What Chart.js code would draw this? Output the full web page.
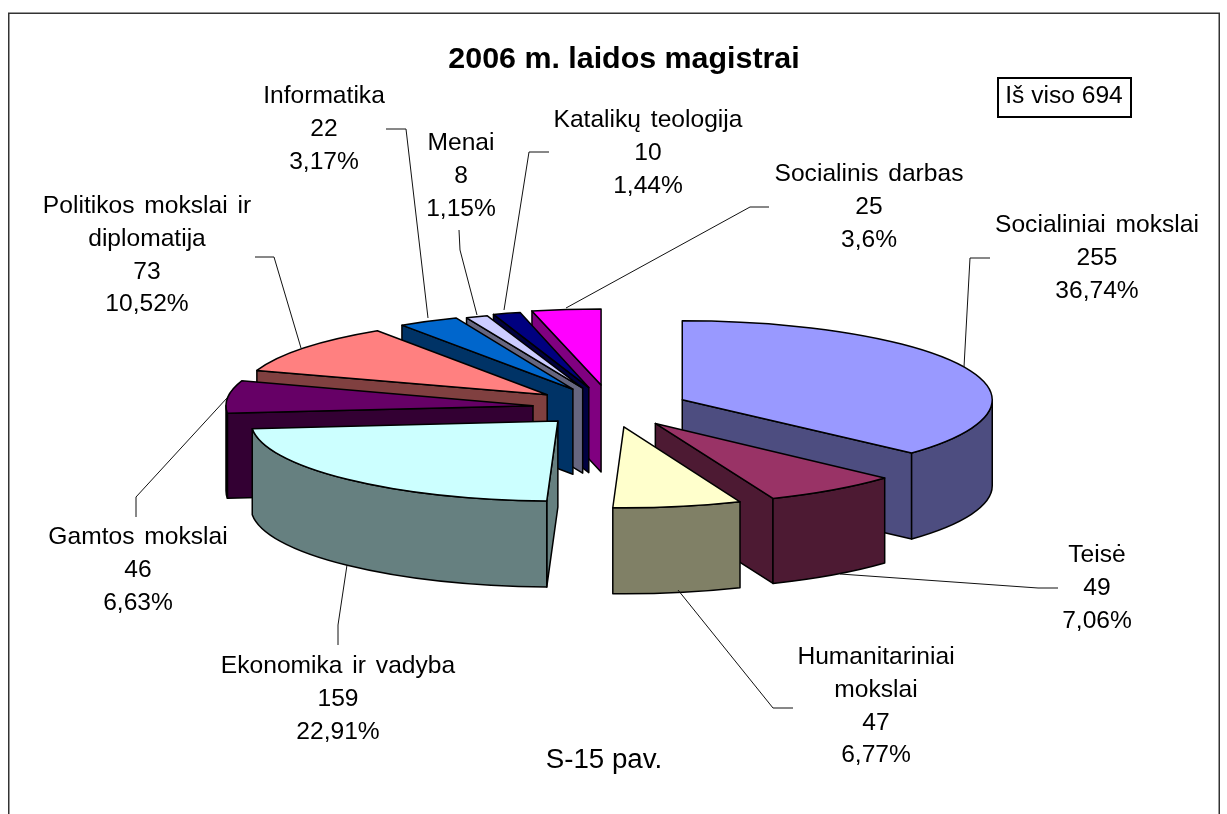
<!DOCTYPE html>
<html>
<head>
<meta charset="utf-8">
<style>html,body{margin:0;padding:0;background:#fff}canvas{display:block}</style>
<script src="https://cdn.jsdelivr.net/npm/chart.js@4"></script>
</head>
<body>
<canvas id="c" width="1227" height="814"></canvas>
<script>
const categories = ['Socialiniai mokslai','Teisė','Humanitariniai mokslai','Ekonomika ir vadyba','Gamtos mokslai','Politikos mokslai ir diplomatija','Informatika','Menai','Katalikų teologija','Socialinis darbas'];
const values = [255,49,47,159,46,73,22,8,10,25];
const percentLabels = ['36,74%','7,06%','6,77%','22,91%','6,63%','10,52%','3,17%','1,15%','1,44%','3,6%'];
const topColors = ['#9999FF','#993366','#FFFFCC','#CCFFFF','#660066','#FF8080','#0066CC','#CCCCFF','#000080','#FF00FF'];
const sideColors = ['#4D4D80','#4D1A33','#808066','#668080','#330033','#804040','#003366','#666680','#000040','#800080'];
const chartTitle = '2006 m. laidos magistrai';
const totalLabel = 'Iš viso 694';
const figureLabel = 'S-15 pav.';

const FONT = '"Liberation Sans", Arial, sans-serif';
const LABEL_PX = 24.6, LINE_H = 32.8;
const TILT = 0.255, RADIUS = 310, SHIFT_X = -14;
const EDGE = 1.5;
// per-slice 3D view fit (perspective of the original): explosion, vertical nudge, ellipse radii, wall height
const explodeBy = [79,79,79,76,77.5,79,79,79,79,79];
const nudgeY    = [1,0,0,0,1,0,0,0,0,-2];
const radiusX   = [310,310,306,307,307,306,308,306,306,308];
const radiusY   = [79,81,81,80,79,77,77,76,77,76];
const wallH     = [86,85,86,86,85,85,85,85,85,87];

const nameLines = {'Humanitariniai mokslai':['Humanitariniai','mokslai'],'Politikos mokslai ir diplomatija':['Politikos mokslai ir','diplomatija']};
// label placement [centre x, first baseline] and leader polyline, by category order
const labelPlace = [
  [1097,232,[[990,258],[970,258],[964,367]]],
  [1097,562,[[1058,588],[1038,588],[840,574]]],
  [876,664,[[793,708],[773,708],[678,590]]],
  [338,673,[[338,645],[338,625],[347,565]]],
  [138,544,[[136,517],[136,497],[227,398]]],
  [147,213,[[255,257],[274,257],[301,348]]],
  [324,103,[[386,129],[406,129],[428,318]]],
  [461,150,[[459,230],[460,250],[477,315]]],
  [648,127,[[549,152],[529,152],[504,310]]],
  [869,181,[[769,207],[750,207],[566,308]]]
];

function polygon(ctx, pts, fill){
  ctx.beginPath();
  pts.forEach((p,i)=> i?ctx.lineTo(p[0],p[1]):ctx.moveTo(p[0],p[1]));
  ctx.closePath();
  ctx.fillStyle = fill; ctx.fill(); ctx.stroke();
}

function drawSlice(ctx, arc, i){
  const a0 = arc.startAngle, a1 = arc.endAngle, mid = (a0+a1)/2, r = arc.outerRadius;
  const rx = radiusX[i], ry = radiusY[i], depth = wallH[i];
  const ax = arc.x + SHIFT_X + Math.cos(mid)*explodeBy[i];
  const ay = arc.y + Math.sin(mid)*explodeBy[i]*TILT + nudgeY[i];
  const rimPt = a => [ax+Math.cos(a)*rx, ay+Math.sin(a)*ry];
  const side = sideColors[i];
  ctx.save();
  ctx.lineWidth = EDGE; ctx.lineJoin = 'round'; ctx.strokeStyle = '#000';
  const wall = a => { const p = rimPt(a); polygon(ctx, [[ax,ay],p,[p[0],p[1]+depth],[ax,ay+depth]], side); };
  if (-Math.cos(a0) > 0.001) wall(a0);
  if (Math.cos(a1) > 0.001) wall(a1);
  // curved outer wall: only the part that faces the viewer
  const lo = Math.max(a0,0), hi = Math.min(a1,Math.PI);
  if (lo < hi){
    ctx.beginPath();
    ctx.ellipse(ax,ay,rx,ry,0,lo,hi,false);
    ctx.ellipse(ax,ay+depth,rx,ry,0,hi,lo,true);
    ctx.closePath();
    ctx.fillStyle = side; ctx.fill(); ctx.stroke();
  }
  // top face, drawn by the library's arc element
  ctx.save();
  ctx.translate(ax,ay); ctx.scale(rx/r,ry/r); ctx.translate(-arc.x,-arc.y);
  arc.draw(ctx);
  ctx.restore();
  ctx.beginPath();
  ctx.moveTo(ax,ay);
  ctx.ellipse(ax,ay,rx,ry,0,a0,a1,false);
  ctx.closePath();
  ctx.stroke();
  ctx.restore();
}

const pie3d = {
  id:'pie3d',
  beforeDraw(chart){
    const ctx = chart.ctx;
    ctx.save();
    ctx.fillStyle = '#fff'; ctx.fillRect(0,0,chart.width,chart.height);
    ctx.strokeStyle = '#333'; ctx.lineWidth = 1.5;
    ctx.strokeRect(8.75,13.25,1210.5,830);
    ctx.restore();
  },
  beforeDatasetDraw(chart,args){
    const ctx = chart.ctx, arcs = args.meta.data;
    const order = arcs.map((a,i)=>i).sort((p,q)=>
      Math.sin((arcs[p].startAngle+arcs[p].endAngle)/2) - Math.sin((arcs[q].startAngle+arcs[q].endAngle)/2));
    order.forEach(i=>drawSlice(ctx,arcs[i],i));
    return false;
  },
  afterDraw(chart){
    const ctx = chart.ctx;
    ctx.save();
    ctx.strokeStyle = '#111'; ctx.lineWidth = 1;
    labelPlace.forEach(p=>{
      ctx.beginPath();
      p[2].forEach((q,i)=> i?ctx.lineTo(q[0],q[1]):ctx.moveTo(q[0],q[1]));
      ctx.stroke();
    });
    ctx.fillStyle = '#000'; ctx.textAlign = 'center'; ctx.textBaseline = 'alphabetic';
    ctx.font = LABEL_PX+'px '+FONT;
    categories.forEach((name,i)=>{
      const names = nameLines[name]||[name];
      const [cx,y0] = labelPlace[i];
      ctx.wordSpacing = '3px';
      names.forEach((t,k)=>ctx.fillText(t,cx,y0+k*LINE_H));
      ctx.wordSpacing = '0px';
      [String(values[i]),percentLabels[i]].forEach((t,k)=>ctx.fillText(t,cx,y0+(names.length+k)*LINE_H));
    });
    ctx.strokeStyle = '#000'; ctx.lineWidth = 2;
    ctx.strokeRect(998,78,133,39);
    ctx.fillText(totalLabel,1064,103);
    ctx.font = '27.7px '+FONT;
    ctx.fillText(figureLabel,604,768);
    ctx.restore();
  }
};

new Chart(document.getElementById('c'),{
  type:'pie',
  data:{labels:categories,datasets:[{data:values,backgroundColor:topColors,borderWidth:0,clip:false}]},
  options:{
    responsive:false,animation:false,radius:RADIUS,
    layout:{padding:{left:28,right:7,top:0,bottom:78}},
    plugins:{
      legend:{display:false},tooltip:{enabled:false},
      title:{display:true,text:chartTitle,color:'#000',font:{family:FONT,size:30.4,weight:'bold',lineHeight:1.2},padding:{top:41.5,bottom:0}}
    }
  },
  plugins:[pie3d]
});
</script>
</body>
</html>
